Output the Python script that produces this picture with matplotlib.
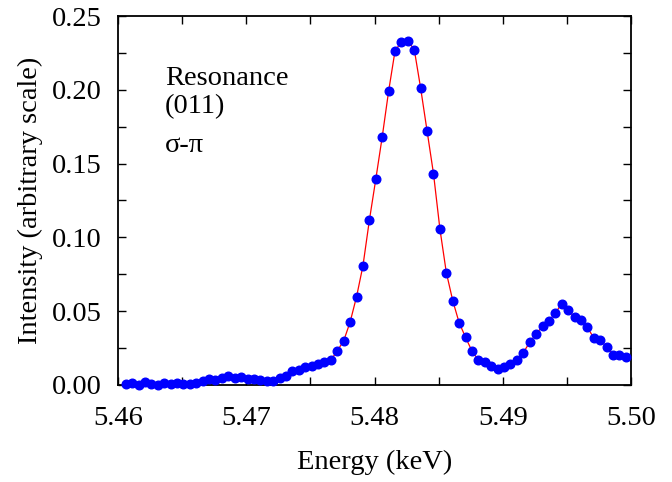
import matplotlib
matplotlib.use("Agg")
import matplotlib.pyplot as plt
from matplotlib.ticker import MultipleLocator, FormatStrFormatter

# energy (keV) and intensity
energy = [5.4606, 5.4611, 5.4616, 5.4621, 5.4626, 5.4631, 5.4636, 5.4641, 5.4646, 5.4651,
          5.4656, 5.4661, 5.4666, 5.4671, 5.4676, 5.4681, 5.4686, 5.4691, 5.4696, 5.4701,
          5.4706, 5.4711, 5.4716, 5.4721, 5.4726, 5.4731, 5.4736, 5.4741, 5.4746, 5.4751,
          5.4756, 5.4761, 5.4766, 5.4771, 5.4776, 5.4781, 5.4786, 5.4791, 5.4796, 5.4801,
          5.4806, 5.4811, 5.4816, 5.4821, 5.4826, 5.4831, 5.4836, 5.4841, 5.4846, 5.4851,
          5.4856, 5.4861, 5.4866, 5.4871, 5.4876, 5.4881, 5.4886, 5.4891, 5.4896, 5.4901,
          5.4906, 5.4911, 5.4916, 5.4921, 5.4926, 5.4931, 5.4936, 5.4941, 5.4946, 5.4951,
          5.4956, 5.4961, 5.4966, 5.4971, 5.4976, 5.4981, 5.4986, 5.4991, 5.4996]
intensity = [0.0007, 0.0016, 0.0002, 0.0020, 0.0007, 0.0002, 0.0012, 0.0007, 0.0014, 0.0007,
             0.0009, 0.0016, 0.0029, 0.0041, 0.0036, 0.0045, 0.0061, 0.0049, 0.0052, 0.0043,
             0.0043, 0.0032, 0.0025, 0.0027, 0.0049, 0.0061, 0.0097, 0.0104, 0.0121, 0.0129,
             0.0144, 0.0154, 0.0169, 0.0232, 0.0300, 0.0427, 0.0598, 0.0808, 0.1116, 0.1394,
             0.1680, 0.1990, 0.2263, 0.2326, 0.2331, 0.2273, 0.2010, 0.1721, 0.1432, 0.1057,
             0.0762, 0.0572, 0.0422, 0.0323, 0.0230, 0.0169, 0.0154, 0.0129, 0.0110, 0.0124,
             0.0142, 0.0169, 0.0219, 0.0289, 0.0346, 0.0398, 0.0434, 0.0488, 0.0551, 0.0506,
             0.0461, 0.0440, 0.0391, 0.0318, 0.0303, 0.0259, 0.0203, 0.0203, 0.0190]

labels = ["Resonance", "(011)", "σ-π"]

plt.rcParams['font.family'] = ['Liberation Serif', 'DejaVu Serif']

fs = 20.5
fig = plt.figure(figsize=(6.72, 4.82), dpi=100)
ax = fig.add_axes([118/672, 1 - 385/482, 513/672, 369/482])

ax.plot(energy, intensity, color='red', lw=0.9, zorder=2)
ax.plot(energy, intensity, 'o', color='#0000ff', ms=6.2, mec='#0000ff', zorder=3, clip_on=False)

ax.set_xlim(5.46, 5.50)
ax.set_ylim(0, 0.25)
ax.xaxis.set_major_locator(MultipleLocator(0.01))
ax.xaxis.set_minor_locator(MultipleLocator(0.005))
ax.yaxis.set_major_locator(MultipleLocator(0.05))
ax.yaxis.set_minor_locator(MultipleLocator(0.025))
ax.xaxis.set_major_formatter(FormatStrFormatter('%.2f'))
ax.yaxis.set_major_formatter(FormatStrFormatter('%.2f'))
ax.tick_params(which='both', direction='in', top=True, right=True, length=6, width=1,
               labelsize=fs)
ax.tick_params(axis='x', pad=15)
ax.tick_params(axis='y', pad=12)
for s in ax.spines.values():
    s.set_linewidth(1.3)

ax.set_xlabel("Energy (keV)", fontsize=fs, labelpad=14)
ax.set_ylabel("Intensity (arbitrary scale)", fontsize=fs, labelpad=6)

ax.text(5.46367, 0.2033, labels[0], fontsize=fs, va='baseline')
ax.text(5.46367, 0.1843, labels[1], fontsize=fs, va='baseline')
ax.text(5.46367, 0.1579, labels[2], fontsize=fs, va='baseline')

fig.savefig("out.png", dpi=100)
